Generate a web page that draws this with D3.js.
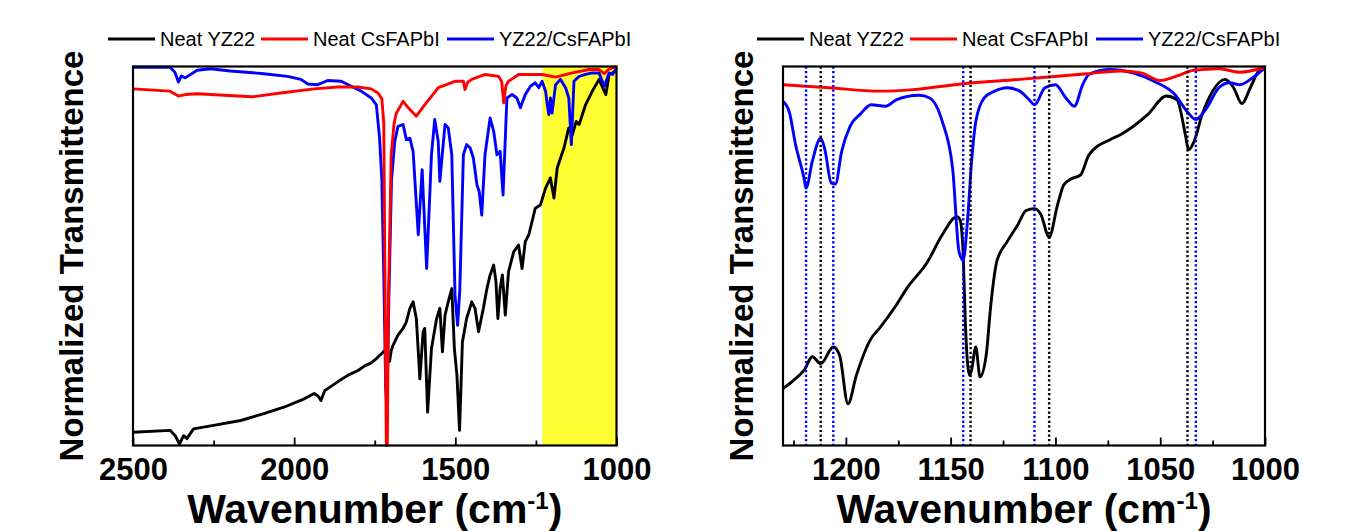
<!DOCTYPE html>
<meta charset="utf-8">
<style>

body {
  margin: 0;
  background: #fff;
}

svg {
  display: block;
  font-family: "Liberation Sans", Arial, sans-serif;
}

.frame {
  fill: none;
  stroke: #000;
  stroke-width: 2.2;
}

.axis path {
  display: none;
}

.axis line {
  stroke: #000;
  stroke-width: 1.8;
}

.axis text {
  font-size: 31px;
  font-weight: bold;
  fill: #000;
}

.spectrum {
  fill: none;
  stroke-width: 2.9;
  stroke-linejoin: round;
}

.legend text {
  font-size: 20px;
  fill: #000;
}

.title {
  font-weight: bold;
  fill: #000;
}

</style>
<svg width="1351" height="531"></svg>
<script src="https://cdn.jsdelivr.net/npm/d3@7"></script>
<script>

// series names and colours (same for both panels)
var seriesNames = ["Neat YZ22", "Neat CsFAPbI", "YZ22/CsFAPbI"];
var seriesColors = ["#000000", "#ff0000", "#0000ff"];

// left panel: full range 2500-1000 cm-1, [wavenumber, normalized T]
var overviewYZ22 = [[2500,0.035],[2385,0.040],[2369,0.026],[2356,0.004],[2343,0.026],[2333,0.018],[2312,0.044],[2250,0.053],
  [2166,0.066],[2094,0.084],[2032,0.101],[1969,0.123],[1938,0.137],[1925,0.130],[1917,0.119],[1905,0.145],[1896,0.150],
  [1865,0.168],[1834,0.185],[1802,0.198],[1781,0.210],[1761,0.218],[1745,0.229],[1735,0.238],[1724,0.246],[1714,0.256],
  [1709,0.235],[1704,0.222],[1699,0.250],[1693,0.265],[1678,0.291],[1662,0.309],[1652,0.326],[1641,0.362],[1631,0.379],
  [1621,0.335],[1610,0.176],[1600,0.300],[1595,0.309],[1586,0.088],[1574,0.256],[1558,0.335],[1548,0.362],[1540,0.247],
  [1532,0.344],[1522,0.379],[1511,0.414],[1503,0.256],[1495,0.185],[1487,0.040],[1478,0.273],[1465,0.335],[1449,0.379],
  [1439,0.362],[1428,0.300],[1413,0.362],[1402,0.414],[1392,0.450],[1381,0.476],[1374,0.432],[1368,0.335],[1361,0.414],
  [1354,0.450],[1345,0.344],[1335,0.458],[1319,0.511],[1304,0.529],[1293,0.467],[1283,0.538],[1272,0.556],[1252,0.626],
  [1236,0.635],[1220,0.679],[1205,0.706],[1194,0.653],[1184,0.732],[1163,0.785],[1148,0.838],[1137,0.820],[1125,0.855],
  [1116,0.847],[1096,0.899],[1075,0.935],[1054,0.966],[1038,0.935],[1033,0.926],[1023,0.979],[1012,0.983],[1000,0.990]];

var overviewCsFAPbI = [[2500,0.941],[2385,0.935],[2359,0.922],[2338,0.926],[2301,0.928],[2218,0.924],[2130,0.920],
  [2042,0.930],[1938,0.941],[1865,0.946],[1802,0.946],[1761,0.941],[1740,0.930],[1728,0.915],[1722,0.85],[1718,0.4],
  [1714,0.0],[1711,0.0],[1708,0.35],[1699,0.767],[1690,0.85],[1683,0.877],[1662,0.908],[1646,0.891],[1621,0.869],
  [1595,0.899],[1553,0.944],[1501,0.961],[1475,0.961],[1470,0.939],[1462,0.958],[1449,0.966],[1408,0.979],[1366,0.974],
  [1356,0.960],[1350,0.904],[1343,0.950],[1335,0.961],[1304,0.979],[1231,0.979],[1189,0.972],[1137,0.983],[1085,0.992],
  [1054,0.992],[1038,0.981],[1025,0.992],[1012,0.997],[1000,1.0]];

var overviewMixed = [[2500,0.998],[2385,0.998],[2370,0.985],[2359,0.959],[2350,0.975],[2338,0.970],[2301,0.990],
  [2260,0.994],[2198,0.988],[2094,0.981],[2021,0.974],[1979,0.966],[1958,0.954],[1927,0.952],[1896,0.963],[1854,0.961],
  [1823,0.948],[1792,0.935],[1761,0.917],[1745,0.899],[1735,0.811],[1728,0.7],[1722,0.45],[1716,0.15],[1712,0.1],
  [1706,0.4],[1698,0.7],[1688,0.802],[1678,0.842],[1662,0.847],[1652,0.807],[1641,0.811],[1631,0.776],[1615,0.556],
  [1603,0.728],[1589,0.467],[1574,0.767],[1564,0.860],[1553,0.802],[1548,0.697],[1532,0.847],[1522,0.838],[1511,0.767],
  [1501,0.397],[1493,0.317],[1486,0.414],[1475,0.767],[1465,0.794],[1454,0.785],[1444,0.758],[1433,0.688],[1426,0.670],
  [1418,0.608],[1408,0.767],[1392,0.864],[1381,0.829],[1371,0.767],[1361,0.776],[1352,0.661],[1340,0.917],[1324,0.926],
  [1309,0.917],[1298,0.891],[1283,0.926],[1267,0.948],[1252,0.957],[1241,0.944],[1231,0.961],[1220,0.935],[1215,0.90],
  [1210,0.873],[1205,0.917],[1200,0.877],[1189,0.952],[1174,0.966],[1158,0.944],[1148,0.917],[1140,0.794],[1132,0.961],
  [1116,0.974],[1096,0.979],[1075,0.983],[1054,0.983],[1038,0.948],[1023,0.983],[1012,0.979],[1000,0.997]];

// right panel: zoom 1230-1000 cm-1, renormalized
var detailYZ22 = [[1230,0.150],[1225,0.172],[1220,0.198],[1216,0.234],[1212,0.216],[1206,0.260],[1203,0.238],
  [1199,0.110],[1195,0.185],[1188,0.282],[1184,0.309],[1176,0.370],[1171,0.414],[1161,0.485],[1154,0.556],[1147,0.604],
  [1145.5,0.595],[1144,0.5],[1143,0.326],[1141,0.185],[1140,0.2],[1138,0.260],[1136,0.181],[1133,0.240],[1131,0.362],
  [1128,0.485],[1123,0.538],[1118,0.582],[1114,0.620],[1110,0.625],[1107,0.610],[1103,0.55],[1099,0.635],[1096,0.688],
  [1093,0.702],[1088,0.714],[1084,0.767],[1074,0.807],[1069,0.820],[1056,0.873],[1047,0.922],[1042,0.912],[1038,0.820],
  [1036.5,0.780],[1034,0.800],[1030,0.873],[1025,0.935],[1019,0.966],[1015,0.944],[1011,0.902],[1007,0.944],
  [1003,0.988],[1000,0.997]];

var detailCsFAPbI = [[1230,0.952],[1208,0.944],[1184,0.935],[1168,0.939],[1145,0.954],[1117,0.966],[1085,0.981],
  [1069,0.988],[1059,0.983],[1050,0.963],[1042,0.975],[1034,0.990],[1022,0.994],[1012,0.985],[1000,0.998]];

var detailMixed = [[1230,0.908],[1227,0.880],[1224,0.794],[1220,0.706],[1219,0.679],[1216,0.75],[1212,0.811],
  [1210,0.780],[1207,0.693],[1205,0.690],[1202,0.776],[1198,0.842],[1193,0.875],[1188,0.899],[1181,0.895],[1176,0.912],
  [1165,0.924],[1160,0.917],[1154,0.855],[1149,0.728],[1146,0.511],[1144,0.489],[1142,0.590],[1140,0.750],[1138,0.855],
  [1134,0.917],[1129,0.935],[1123,0.944],[1117,0.935],[1113,0.915],[1110,0.899],[1105,0.944],[1100,0.952],[1095,0.917],
  [1091,0.895],[1087,0.952],[1084,0.979],[1074,0.992],[1063,0.983],[1053,0.961],[1043,0.926],[1037,0.880],[1033,0.860],
  [1028,0.889],[1022,0.944],[1017,0.957],[1012,0.952],[1006,0.970],[1000,0.997]];

// dotted peak markers in the right panel
var mixedPeaks = [1219, 1206, 1144, 1110, 1033];
var yz22Peaks = [1212, 1140.5, 1103, 1037];

// tick values
var overviewTicks = [2500, 2000, 1500, 1000];
var overviewMinor = [2250, 1750, 1250];
var detailTicks = [1200, 1150, 1100, 1050, 1000];
var detailMinor = [1225, 1175, 1125, 1075, 1025];

// highlighted region of the left panel (shown in the right panel)
var zoomRange = [1230, 1000];

var svg = d3.select("svg"),
    plotTop = 66.5,
    plotBottom = 445.5;

function drawPanel(p) {
  var x = d3.scaleLinear().domain(p.domain).range([p.left, p.right]),
      y = d3.scaleLinear().domain([0, 1]).range([plotBottom, plotTop]);

  var g = svg.append("g");

  if (p.highlight) {
    g.append("rect")
        .attr("x", x(p.highlight[0]))
        .attr("y", plotTop)
        .attr("width", x(p.highlight[1]) - x(p.highlight[0]))
        .attr("height", plotBottom - plotTop)
        .attr("fill", "#ffff33");
  }

  var line = d3.line()
      .x(function(d) { return x(d[0]); })
      .y(function(d) { return y(d[1]); })
      .curve(p.curve);

  // black first, red drawn last
  [0, 2, 1].forEach(function(i) {
    g.append("path")
        .datum(p.series[i])
        .attr("class", "spectrum")
        .attr("stroke", seriesColors[i])
        .attr("d", line);
  });

  if (p.markers) {
    p.markers.forEach(function(m) {
      g.selectAll(null)
        .data(m.values)
        .enter().append("line")
          .attr("x1", function(d) { return x(d); })
          .attr("x2", function(d) { return x(d); })
          .attr("y1", plotTop)
          .attr("y2", plotBottom)
          .attr("stroke", m.color)
          .attr("stroke-width", 2.4)
          .attr("stroke-dasharray", "2.2,2.4");
    });
  }

  g.append("g")
      .attr("class", "axis")
      .attr("transform", "translate(0," + plotBottom + ")")
      .call(d3.axisBottom(x).tickValues(p.major).tickSize(-8).tickPadding(12).tickFormat(d3.format("d")));

  g.append("g")
      .attr("class", "axis")
      .attr("transform", "translate(0," + plotBottom + ")")
      .call(d3.axisBottom(x).tickValues(p.minor).tickSize(-5).tickFormat(""));

  g.append("rect")
      .attr("class", "frame")
      .attr("x", p.left)
      .attr("y", plotTop)
      .attr("width", p.right - p.left)
      .attr("height", plotBottom - plotTop);

  g.append("text")
      .attr("class", "title")
      .attr("transform", "translate(" + p.ylabelX + "," + (plotTop + plotBottom) / 2 + ") rotate(-90)")
      .attr("text-anchor", "middle")
      .attr("font-size", 33)
      .text("Normalized Transmittence");

  var xt = g.append("text")
      .attr("class", "title")
      .attr("x", (p.left + p.right) / 2)
      .attr("y", 523)
      .attr("text-anchor", "middle")
      .attr("font-size", 41);
  xt.append("tspan").text("Wavenumber (cm");
  xt.append("tspan").attr("font-size", 24).attr("dy", -14).text("-1");
  xt.append("tspan").attr("dy", 14).text(")");

  var legend = g.append("g").attr("class", "legend");
  p.legendX.forEach(function(lx, i) {
    legend.append("line")
        .attr("x1", lx)
        .attr("x2", lx + 47)
        .attr("y1", 39)
        .attr("y2", 39)
        .attr("stroke", seriesColors[i])
        .attr("stroke-width", 2.8);
    legend.append("text")
        .attr("x", lx + 52)
        .attr("y", 46)
        .text(seriesNames[i]);
  });
}

drawPanel({
  domain: [2500, 1000], left: 133, right: 616.5,
  series: [overviewYZ22, overviewCsFAPbI, overviewMixed],
  curve: d3.curveLinear,
  major: overviewTicks, minor: overviewMinor,
  highlight: zoomRange,
  ylabelX: 83,
  legendX: [108, 261, 447]
});

drawPanel({
  domain: zoomRange, left: 783, right: 1265,
  series: [detailYZ22, detailCsFAPbI, detailMixed],
  curve: d3.curveMonotoneX,
  major: detailTicks, minor: detailMinor,
  markers: [{values: mixedPeaks, color: "#0000ff"}, {values: yz22Peaks, color: "#000"}],
  ylabelX: 753,
  legendX: [757, 910, 1096]
});

</script>
